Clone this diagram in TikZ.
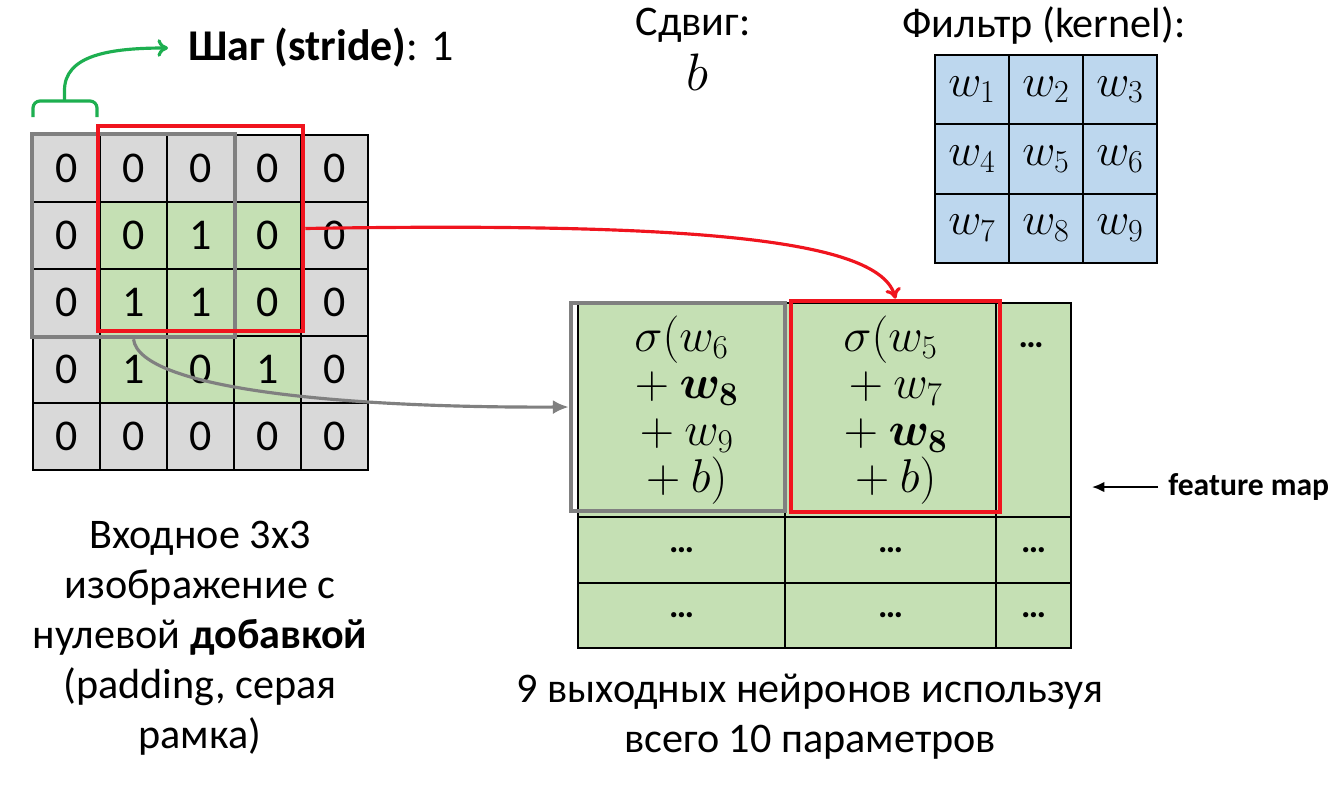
\RequirePackage{fix-cm}
\documentclass[tikz,border=0pt]{standalone}
\usepackage{amsmath}
\usepackage{bm}
\usepackage{fontspec}
\setmainfont{Carlito}
\usepackage{xcolor}
\usepackage{tikz}
\usetikzlibrary{arrows.meta,fit}
\definecolor{cellgray}{HTML}{D9D9D9}
\definecolor{cellgreen}{HTML}{C5E0B4}
\definecolor{cellblue}{HTML}{BDD7EE}
\definecolor{winred}{HTML}{F0141E}
\definecolor{wingray}{HTML}{808080}
\definecolor{stridegreen}{HTML}{1DAF50}
\tikzstyle{incell} = [draw=black, line width=1.1pt, minimum size=1.34cm,
    inner sep=0pt, font=\fontsize{25}{30}\selectfont]
\tikzstyle{kcell} = [draw=black, line width=1.1pt, fill=cellblue, minimum width=1.48cm,
    minimum height=1.386cm, inner sep=0pt, font=\fontsize{26}{30}\selectfont]
\tikzstyle{outcell} = [draw=black, line width=1.1pt, fill=cellgreen, inner sep=0pt,
    align=center, font=\fontsize{27}{26.7}\selectfont]
\tikzstyle{graywin} = [draw=wingray, line width=2.6pt, inner sep=0pt]
\tikzstyle{redwin} = [draw=winred, line width=2.6pt, inner sep=0pt]
\tikzstyle{link} = [line width=1.8pt]
\tikzstyle{txt} = [inner sep=0pt, font=\fontsize{24}{28.5}\selectfont]
\tikzstyle{moredots} = [font=\fontsize{20}{24}\selectfont\bfseries]

\begin{document}
\begin{tikzpicture}[x=0.02cm, y=-0.02cm]
\useasboundingbox (0,0) rectangle (1344,784);
\foreach \row/\vals in {0/{0,0,0,0,0},1/{0,0,1,0,0},2/{0,1,1,0,0},3/{0,1,0,1,0},4/{0,0,0,0,0}}
    \foreach \v [count=\col from 0] in \vals {
        \pgfmathtruncatemacro\inner{and(and(\row>0,\row<4),and(\col>0,\col<4))}
        \ifnum\inner=1 \def\cellfill{cellgreen}\else\def\cellfill{cellgray}\fi
        \node[incell, fill=\cellfill] (in-\row-\col) at (66.5+67*\col, 168.5+67*\row) {\v};
    }
\foreach \row in {0,1,2}
    \foreach \col in {0,1,2} {
        \pgfmathtruncatemacro\idx{3*\row+\col+1}
        \node[kcell] (k-\row-\col) at (972+74*\col, 89.7+69.3*\row) {$w_{\idx}$};
    }
\node[outcell, minimum width=4.14cm, minimum height=4.28cm] (out-0-0) at (681.5,410)
    {$\sigma(w_6$\\${}+\bm{w_8}$\\${}+w_9$\\${}+b)$};
\node[outcell, minimum width=4.22cm, minimum height=4.28cm] (out-0-1) at (890.5,410)
    {$\sigma(w_5$\\${}+w_7$\\${}+\bm{w_8}$\\${}+b)$};
\node[outcell, minimum width=1.5cm, minimum height=4.28cm] (out-0-2) at (1033.5,410) {};
\node[moredots] (more) at (1031,345) {…};
\foreach \row/\y/\h in {1/550/1.32,2/615.5/1.3}
    \foreach \col/\x/\w in {0/681.5/4.14,1/890.5/4.22,2/1033.5/1.5}
        \node[outcell, minimum width=\w cm, minimum height=\h cm] (out-\row-\col) at (\x,\y)
            {\fontsize{20}{24}\selectfont\bfseries …};

\node[graywin, fit=(in-0-0)(in-2-2)] (win1) {};
\node[redwin, minimum width=4.1cm, minimum height=4.1cm] (win2) at (200.5,228.5) {};
\node[graywin, minimum width=4.28cm, minimum height=4.16cm] (out1) at (678,407) {};
\node[redwin, minimum width=4.18cm, minimum height=4.22cm] (out2) at (895.5,406.5) {};

\draw[link, winred, -{To[length=6pt,width=9pt]}] (win2.east) .. controls (700,222) and (880,240) .. (out2.north);
\draw[link, wingray, -{Latex[length=9pt,width=8pt]}] (win1.south) .. controls (140,390) and (350,408) .. (out1.west);

\node[txt, anchor=west, font=\fontsize{25}{30}\selectfont] (stride) at (188,48) {\textbf{Шаг (stride)}: 1};
\coordinate (bracemid) at (64.5,101);
\draw[link, stridegreen, rounded corners=4pt] (33,117) -- (33,101) -- (97,101) -- (97,117);
\draw[link, stridegreen, -{To[length=6pt,width=10pt]}, shorten >=0.4cm] (bracemid) -- ++(0,-10)
    .. controls (64,55) and (110,48) .. (stride.west);

\node[txt] (shiftlbl) at (693,25) {Сдвиг:};
\node[txt, font=\fontsize{30}{32}\selectfont] (bias) at (697,72) {$b$};
\node[txt] (ktitle) at (1044,25) {Фильтр (kernel):};

\node[anchor=west, inner sep=0pt, font=\fontsize{18}{20}\selectfont\bfseries] (fmap) at (1168,487) {feature map};
\coordinate (fmaptip) at (1092,487);
\draw[line width=1.1pt, -{Latex[length=7pt,width=6pt]}] ([xshift=-0.2cm]fmap.west) -- (fmaptip);

\node[txt, align=center] (incap) at (200,638)
    {Входное 3x3\\изображение с\\нулевой \textbf{добавкой}\\(padding, серая\\рамка)};
\node[txt, align=center] (outcap) at (810,717)
    {9 выходных нейронов используя\\всего 10 параметров};
\end{tikzpicture}
\end{document}
